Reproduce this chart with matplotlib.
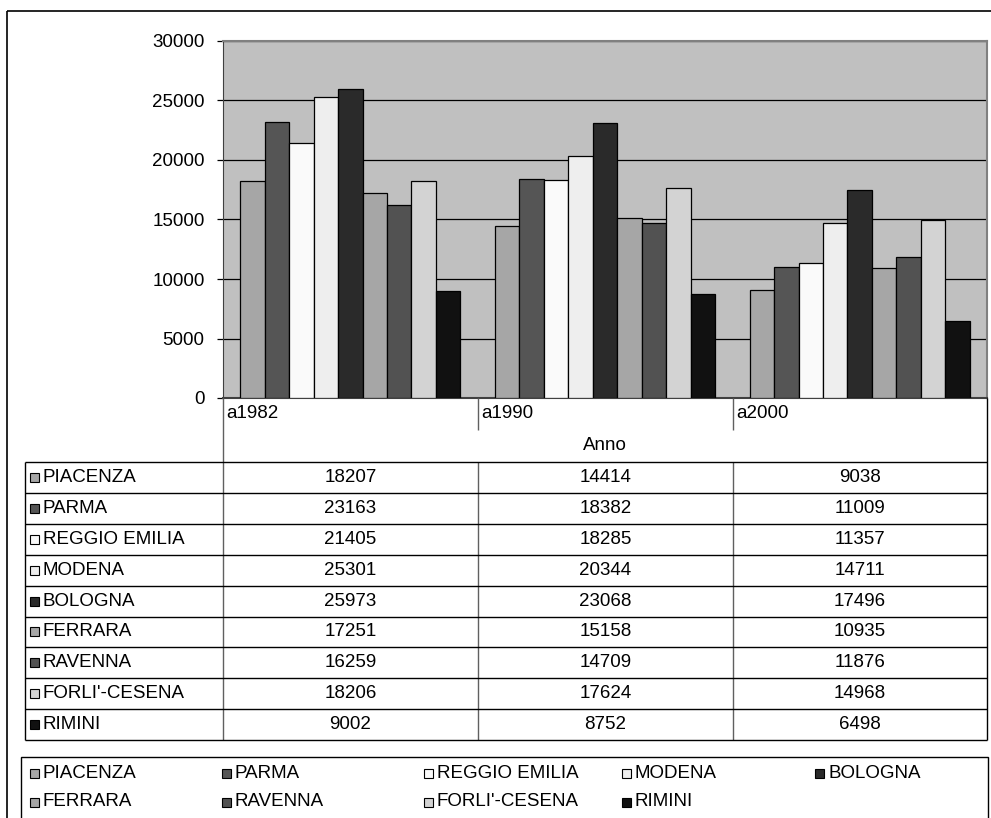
import matplotlib.pyplot as plt
from matplotlib.patches import Rectangle

plt.rcParams['font.family'] = ['Liberation Sans', 'DejaVu Sans']

years = ["a1982", "a1990", "a2000"]
provinces = ["PIACENZA", "PARMA", "REGGIO EMILIA", "MODENA", "BOLOGNA",
             "FERRARA", "RAVENNA", "FORLI'-CESENA", "RIMINI"]
values = [
    [18207, 14414, 9038],
    [23163, 18382, 11009],
    [21405, 18285, 11357],
    [25301, 20344, 14711],
    [25973, 23068, 17496],
    [17251, 15158, 10935],
    [16259, 14709, 11876],
    [18206, 17624, 14968],
    [9002, 8752, 6498],
]
colors = ["#a6a6a6", "#555555", "#fafafa", "#eeeeee", "#2a2a2a",
          "#a6a6a6", "#525252", "#d3d3d3", "#111111"]

FS = 13.5
W, H = 991, 818
fig = plt.figure(figsize=(W / 100, H / 100), dpi=100)

# plot area in pixels
L, R, T, B = 223, 987, 41, 398
ax = fig.add_axes([L / W, 1 - B / H, (R - L) / W, (B - T) / H])
ax.set_facecolor("#c0c0c0")

n = len(provinces)
bw = 0.096
for i, (name, vals, c) in enumerate(zip(provinces, values, colors)):
    xs = [j + (i - (n - 1) / 2) * bw for j in range(len(years))]
    ax.bar(xs, vals, width=bw, color=c, edgecolor="black", linewidth=0.9, zorder=3)

ax.set_xlim(-0.5, len(years) - 0.5)
ax.set_ylim(0, 30000)
ax.set_yticks(range(0, 30001, 5000))
ax.set_xticks([])
ax.yaxis.grid(True, color="black", linewidth=0.9, zorder=0)
ax.tick_params(axis="y", length=4.3, width=0.9, pad=9, labelsize=FS)
for s in ["top", "right"]:
    ax.spines[s].set_color("#808080")
    ax.spines[s].set_linewidth(1.5)
ax.spines["left"].set_color("#404040")
ax.spines["bottom"].set_color("#404040")
ax.spines["bottom"].set_linewidth(1.5)

# overlay for the data table, legend and frame (pixel coordinates)
ov = fig.add_axes([0, 0, 1, 1], facecolor="none")
ov.set_xlim(0, W)
ov.set_ylim(H, 0)
ov.axis("off")

def hline(y, x0, x1, c="black", lw=1.0):
    ov.plot([x0, x1], [y, y], color=c, linewidth=lw, solid_capstyle="butt")

def vline(x, y0, y1, c="#606060", lw=1.0):
    ov.plot([x, x], [y0, y1], color=c, linewidth=lw, solid_capstyle="butt")

# outer frame
hline(11, 7, W + 5, lw=1.2)
vline(7, 11, H + 5, c="black", lw=1.2)

# category label row
col_edges = [L, 478, 733, R]
for k, yr in enumerate(years):
    ov.text(col_edges[k] + 3, 413, yr, fontsize=FS, ha="left", va="center")
for x in col_edges[1:3]:
    vline(x, B, 430)
ov.text((L + R) / 2, 445, "Anno", fontsize=FS, ha="center", va="center")

# data table
tl, tt = 25, 462
rh = 30.9
tb = tt + rh * n
vline(L, B, tb)
vline(R, B, tb, c="black")
vline(tl, tt, tb, c="black")
for x in col_edges[1:3]:
    vline(x, tt, tb)
for r in range(n + 1):
    hline(tt + r * rh, tl, R)
for r, (name, vals, c) in enumerate(zip(provinces, values, colors)):
    yc = tt + (r + 0.5) * rh
    ov.add_patch(Rectangle((30, yc - 4.5), 9, 9, facecolor=c, edgecolor="black", linewidth=0.8))
    ov.text(43, yc, name, fontsize=FS, ha="left", va="center")
    for k, v in enumerate(vals):
        ov.text((col_edges[k] + col_edges[k + 1]) / 2, yc, str(v),
                fontsize=FS, ha="center", va="center")

# legend
ov.add_patch(Rectangle((21, 757), 988 - 21, 80, facecolor="white", edgecolor="black", linewidth=1.0))
leg_x = [30, 222, 424, 622, 815]
leg_y = [773, 802]
for i, (name, c) in enumerate(zip(provinces, colors)):
    x = leg_x[i % 5]
    y = leg_y[i // 5]
    ov.add_patch(Rectangle((x, y - 4.5), 9, 9, facecolor=c, edgecolor="black", linewidth=0.8))
    ov.text(x + 13, y, name, fontsize=FS, ha="left", va="center")

fig.savefig("out.png", dpi=100)
